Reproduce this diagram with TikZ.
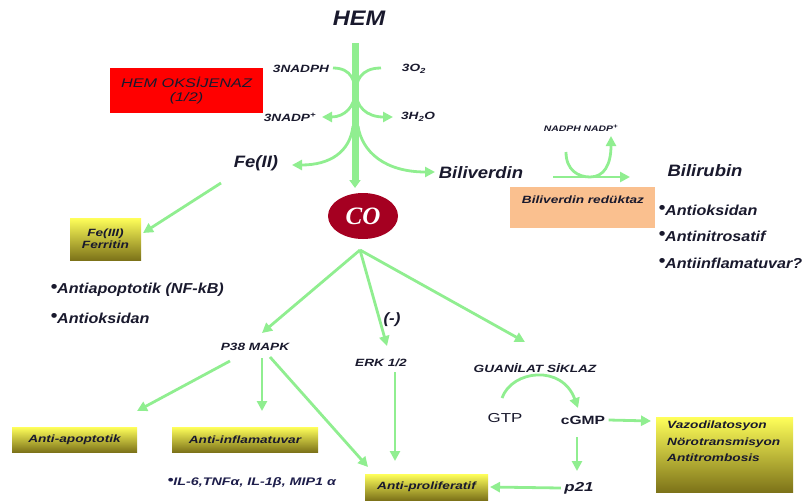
\documentclass[tikz,border=0pt]{standalone}
\usepackage{fontspec}
\setmainfont{Liberation Sans}[FakeStretch=1.12]
\newfontfamily\wsans{Liberation Sans}[FakeStretch=1.3]
\newfontfamily\coser{Liberation Serif}
\usetikzlibrary{arrows.meta,shapes.geometric}
\definecolor{lgreen}{RGB}{144,238,144}
\definecolor{cored}{RGB}{165,0,33}
\definecolor{peach}{RGB}{250,192,143}
\definecolor{ytop}{RGB}{255,255,90}
\definecolor{ybot}{RGB}{125,115,25}
\definecolor{txt}{RGB}{25,25,45}
\newcommand\mybul{{\fontsize{17}{17}\selectfont\raisebox{1.5pt}{•}}}
\newcommand\mysbul{{\fontsize{13}{13}\selectfont\raisebox{1.5pt}{•}}}
\begin{document}
\begin{tikzpicture}[x=1pt,y=-1pt,
  arr/.style={draw=lgreen, line width=2.8pt, -{Triangle[length=10pt,width=10pt]}},
  trunk/.style={draw=lgreen, line width=7pt, -{Triangle[length=8pt,width=11pt]}},
  ybox/.style={rectangle, top color=ytop, bottom color=ybot, inner sep=0pt, text=txt,
    font=\wsans\bfseries\itshape\fontsize{10.5}{12}\selectfont},
  big/.style={font=\bfseries\itshape\fontsize{16.5}{18}\selectfont, text=txt},
  bul/.style={font=\bfseries\itshape\fontsize{14.4}{16}\selectfont, anchor=west, text=txt},
  small/.style={font=\wsans\bfseries\itshape\fontsize{10.5}{12}\selectfont, text=txt}]
\useasboundingbox (0,0) rectangle (806,501);

% nodes
\node[font=\bfseries\itshape\fontsize{21}{24}\selectfont, text=txt] (hem) at (359,18) {HEM};
\node[fill=red, minimum width=153pt, minimum height=45pt, inner sep=0pt, align=center,
  font=\wsans\itshape\fontsize{12.5}{14}\selectfont, text=txt] (ho) at (186.5,90.5) {HEM OKSİJENAZ\\(1/2)};
\node[small] (nadph) at (301,69) {3NADPH};
\node[small] (o2) at (414,69) {3O\textsubscript{2}};
\node[small] (nadp) at (290,117) {3NADP\textsuperscript{+}};
\node[small] (h2o) at (418,117) {3H\textsubscript{2}O};
\node[big] (fe) at (256,163) {Fe(II)};
\node[big] (bv) at (481,173) {Biliverdin};
\node[ybox, minimum width=71pt, minimum height=42pt, align=center] (ferr) at (105.5,239) {Fe(III)\\Ferritin};
\node[bul] (b1) at (47,290) {\mybul Antiapoptotik (NF-kB)};
\node[bul] (b2) at (47,318) {\mybul Antioksidan};
\node[ellipse, fill=cored, minimum width=70pt, minimum height=46pt, inner sep=0pt, text=white,
  font=\coser\bfseries\itshape\fontsize{25}{26}\selectfont] (co) at (363,216) {CO};
\node[small, font=\wsans\bfseries\itshape\fontsize{8}{9}\selectfont] (nn) at (581,128) {NADPH NADP\textsuperscript{+}};
\node[big] (br) at (705,171) {Bilirubin};
\node[fill=peach, minimum width=145pt, minimum height=41pt, inner sep=0pt] (bvr) at (582.5,207.5) {};
\node[small] (bvrt) at (583,200) {Biliverdin redüktaz};
\node[bul] (r1) at (655,210) {\mybul Antioksidan};
\node[bul] (r2) at (655,236) {\mybul Antinitrosatif};
\node[bul] (r3) at (655,263) {\mybul Antiinflamatuvar?};
\node[big, font=\bfseries\itshape\fontsize{15}{17}\selectfont] (neg) at (392,320) {(-)};
\node[small] (p38) at (255,347) {P38 MAPK};
\node[small] (erk) at (381,363) {ERK 1/2};
\node[small] (gs) at (535,368) {GUANİLAT SİKLAZ};
\node[ybox, minimum width=125pt, minimum height=25pt] (aa) at (74.5,439.5) {Anti-apoptotik};
\node[ybox, minimum width=146pt, minimum height=25pt] (ai) at (245,439.5) {Anti-inflamatuvar};
\node[ybox, minimum width=123pt, minimum height=26pt] (ap) at (426.5,487) {Anti-proliferatif};
\node[font=\wsans\bfseries\itshape\fontsize{11}{12}\selectfont, text={rgb,255:red,30;green,30;blue,75}, anchor=west] (il) at (164,483) {\mysbul IL-6,TNFα, IL-1β, MIP1 α};
\node[font=\wsans\fontsize{13}{15}\selectfont, text=txt] (gtp) at (505,418) {GTP};
\node[font=\wsans\bfseries\fontsize{12}{14}\selectfont, text=txt] (cgmp) at (583,420) {cGMP};
\node[font=\wsans\bfseries\itshape\fontsize{13}{15}\selectfont, text=txt] (p21) at (579,488) {p21};
\node[ybox, minimum width=137pt, minimum height=75pt] (vz) at (724.5,454.5) {};
\node[font=\wsans\bfseries\itshape\fontsize{10.5}{16.5}\selectfont, text=txt, align=left, anchor=north west, inner sep=0pt] (vzt) at (667,421) {Vazodilatosyon\\Nörotransmisyon\\Antitrombosis};

% coordinates
\coordinate (trtop) at (355,43);
\coordinate (trbot) at (355,188);
\coordinate (cob) at (360,250);

% connectors
\draw[trunk] (trtop) -- (trbot);
\draw[arr] (333,68) .. controls (352,68) and (355,82) .. (355,92) .. controls (355,106) and (345,117) .. (322,117);
\draw[arr] (381,68) .. controls (360,68) and (356,82) .. (356,92) .. controls (356,106) and (366,117) .. (393,117);
\draw[arr] (353,126) .. controls (350,152) and (330,165) .. (292,165);
\draw[arr] (358,126) .. controls (362,152) and (385,172) .. (435,172);
\draw[arr] (221,183) -- (143,233);
\draw[arr] (553,177) -- (630,177);
\draw[arr] (566,152) .. controls (566,170) and (578,177) .. (590,177) .. controls (604,177) and (611,165) .. (611,136);
\draw[arr] (cob) -- (262,333);
\draw[arr] (cob) -- (387,346);
\draw[arr] (cob) -- (525,342);
\draw[arr] (230,361) -- (137,411);
\draw[arr] (262,358) -- (262,411);
\draw[arr] (270,357) -- (368,467);
\draw[arr] (395,372) -- (395,461);
\draw[arr] (502,398) .. controls (512,370) and (562,364) .. (578,408);
\draw[arr] (cgmp.east) -- (651,421);
\draw[arr] (577,437) -- (577,471);
\draw[arr] (p21.west) -- (490,487);
\end{tikzpicture}
\end{document}
